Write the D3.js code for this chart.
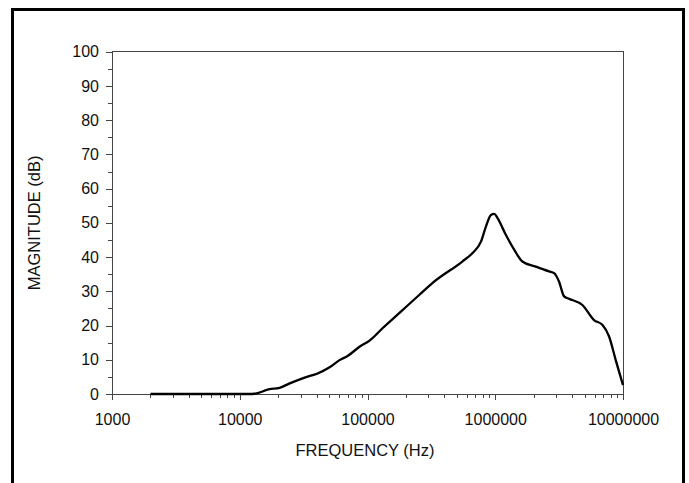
<!DOCTYPE html>
<html>
<head>
<meta charset="utf-8">
<script src="https://cdn.jsdelivr.net/npm/d3@7"></script>
<style>
body { margin: 0; background: #fff; }
svg { display: block; }
text { font-family: "Liberation Sans", Arial, sans-serif; fill: #111; }
</style>
</head>
<body>
<svg id="chart" width="689" height="483"></svg>
<script>
// frequency response
var freq = [2000, 5000, 10000, 12600, 17100, 20500, 24600, 32200, 40700, 50500,
    60400, 69800, 86600, 103700, 131000, 178000, 255000, 322000, 552000, 661000,
    773000, 845000, 925000, 982000, 1042000, 1210000, 1410000, 1630000, 2080000, 2640000,
    2890000, 3160000, 3460000, 3790000, 4810000, 5930000, 6890000, 7780000, 8770000, 10000000];
var magnitude = [0, 0, 0, 0, 1.4, 1.8, 3.1, 4.8, 6.0, 7.8,
    9.9, 11.1, 13.8, 15.6, 19.2, 23.7, 29.0, 32.4, 38.7, 41.1,
    44.5, 48.9, 52.3, 52.6, 51.4, 46.5, 42.1, 38.7, 37.2, 35.8,
    35.3, 32.8, 28.5, 27.8, 26.0, 21.6, 20.2, 16.8, 9.9, 2.6];

var xMajor = [1000, 10000, 100000, 1000000, 10000000];
var yMajor = [0, 10, 20, 30, 40, 50, 60, 70, 80, 90, 100];
var yMinor = [5, 15, 25, 35, 45, 55, 65, 75, 85, 95];
var xTitle = 'FREQUENCY (Hz)';
var yTitle = 'MAGNITUDE (dB)';

var xMinor = [];
xMajor.slice(0, -1).forEach(function(d) {
    for (var k = 2; k <= 9; k++) xMinor.push(d * k);
});

// plot box (note: "top" is taken by window.top)
var pLeft = 112, pRight = 623, pTop = 51.7, pBottom = 394;
var svg = d3.select('#chart');
var axisColor = '#444';

// outer frame (bottom edge runs off the picture)
svg.append('rect')
    .attr('x', 12.5).attr('y', 9.5)
    .attr('width', 671).attr('height', 520)
    .attr('fill', 'none')
    .attr('stroke', '#000')
    .attr('stroke-width', 3);

var x = d3.scaleLog().domain([1000, 10000000]).range([pLeft, pRight]);
var y = d3.scaleLinear().domain([0, 100]).range([pBottom, pTop]);

// box top & right
svg.append('path')
    .attr('d', 'M' + pLeft + ',' + pTop + 'H' + pRight + 'V' + pBottom)
    .attr('fill', 'none')
    .attr('stroke', axisColor)
    .attr('stroke-width', 1)
    .attr('shape-rendering', 'crispEdges');

function style(g) {
    g.selectAll('path, line').attr('stroke', axisColor).attr('shape-rendering', 'crispEdges');
    g.selectAll('text').style('font-size', '16px').attr('fill', '#111')
        .style('font-family', '"Liberation Sans", Arial, sans-serif');
}

svg.append('g')
    .attr('transform', 'translate(0,' + pBottom + ')')
    .call(d3.axisBottom(x).tickValues(xMinor).tickSize(4).tickSizeOuter(0).tickFormat(''))
    .call(style);
svg.append('g')
    .attr('transform', 'translate(0,' + pBottom + ')')
    .call(d3.axisBottom(x).tickValues(xMajor).tickSize(6).tickSizeOuter(0).tickPadding(14)
        .tickFormat(d3.format('d')))
    .call(style);

svg.append('g')
    .attr('transform', 'translate(' + pLeft + ',0)')
    .call(d3.axisLeft(y).tickValues(yMinor).tickSize(4).tickSizeOuter(0).tickFormat(''))
    .call(style);
svg.append('g')
    .attr('transform', 'translate(' + pLeft + ',0)')
    .call(d3.axisLeft(y).tickValues(yMajor).tickSize(6).tickSizeOuter(0).tickPadding(7))
    .call(style);

var line = d3.line()
    .x(function(d, i) { return x(freq[i]); })
    .y(function(d) { return y(d); })
    .curve(d3.curveMonotoneX);

svg.append('path')
    .datum(magnitude)
    .attr('d', line)
    .attr('fill', 'none')
    .attr('stroke', '#000')
    .attr('stroke-width', 2.3)
    .attr('stroke-linejoin', 'round');

svg.append('text')
    .attr('x', 365).attr('y', 455.5)
    .attr('text-anchor', 'middle')
    .style('font-size', '16.5px')
    .text(xTitle);

svg.append('text')
    .attr('transform', 'translate(40,' + (pTop + pBottom) / 2 + ') rotate(-90)')
    .attr('text-anchor', 'middle')
    .style('font-size', '16.5px')
    .text(yTitle);
</script>
</body>
</html>
